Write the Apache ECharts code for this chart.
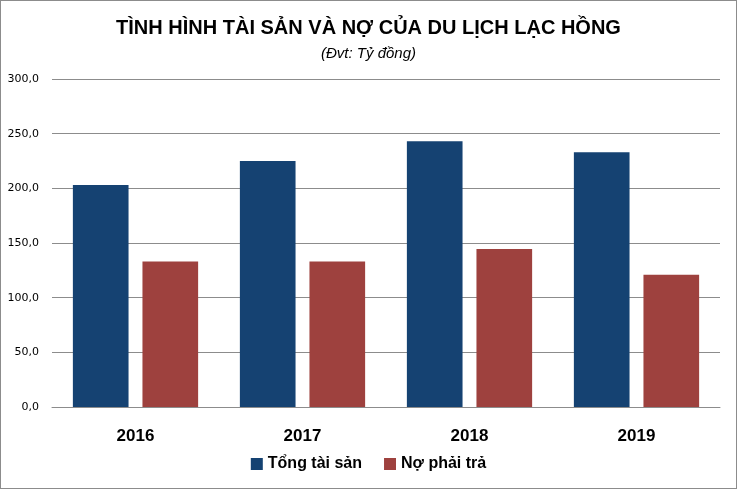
<!DOCTYPE html>
<html>
<head>
<meta charset="utf-8">
<script src="https://cdn.jsdelivr.net/npm/echarts@6/dist/echarts.min.js"></script>
<style>
  html, body { margin: 0; padding: 0; background: #fff; }
  #chart { width: 737px; height: 489px; box-sizing: border-box; border: 1px solid #8c8c8c; }
</style>
</head>
<body>
<div id="chart"></div>
<script>
// Dữ liệu (Đvt: Tỷ đồng)
const years = ['2016', '2017', '2018', '2019'];
const tongTaiSan = [203, 225, 243, 233];
const noPhaiTra = [133, 133, 144.5, 121];
const seriesNames = ['Tổng tài sản', 'Nợ phải trả'];

const chart = echarts.init(document.getElementById('chart'), null, { renderer: 'canvas' });

const font = '"Liberation Sans Narrow", "Arial Narrow", "Liberation Sans", sans-serif';

chart.setOption({
    animation: false,
    title: {
        text: 'TÌNH HÌNH TÀI SẢN VÀ NỢ CỦA DU LỊCH LẠC HỒNG',
        subtext: '(Đvt: Tỷ đồng)',
        left: 'center',
        top: 12,
        itemGap: 8,
        textStyle: { fontFamily: font, fontSize: 20, fontWeight: 'bold', color: '#000' },
        subtextStyle: { fontFamily: font, fontSize: 15, fontStyle: 'italic', color: '#000' }
    },
    legend: {
        bottom: 11,
        left: 'center',
        itemWidth: 12,
        itemHeight: 12,
        itemGap: 22,
        icon: 'rect',
        textStyle: { fontFamily: font, fontSize: 16, fontWeight: 'bold', color: '#000' },
        data: seriesNames
    },
    grid: { left: 51, right: 16, top: 78, bottom: 81 },
    xAxis: {
        type: 'category',
        data: years,
        axisTick: { show: false },
        axisLine: { lineStyle: { color: '#8c8c8c' } },
        axisLabel: { fontFamily: font, fontSize: 17, fontWeight: 'bold', color: '#000', margin: 21 }
    },
    yAxis: {
        type: 'value',
        min: 0,
        max: 300,
        interval: 50,
        axisLine: { show: false },
        axisTick: { show: false },
        splitLine: { lineStyle: { color: '#8c8c8c' } },
        axisLabel: {
            fontFamily: '"DejaVu Sans", Verdana, sans-serif',
            fontSize: 11,
            color: '#000',
            margin: 13,
            formatter: function (v) { return v.toFixed(1).replace('.', ','); }
        }
    },
    series: [
        {
            name: seriesNames[0],
            type: 'bar',
            data: tongTaiSan,
            barGap: '25%',
            barCategoryGap: '25%',
            itemStyle: { color: '#154272' }
        },
        {
            name: seriesNames[1],
            type: 'bar',
            data: noPhaiTra,
            itemStyle: { color: '#9e413e' }
        }
    ]
});
</script>
</body>
</html>
